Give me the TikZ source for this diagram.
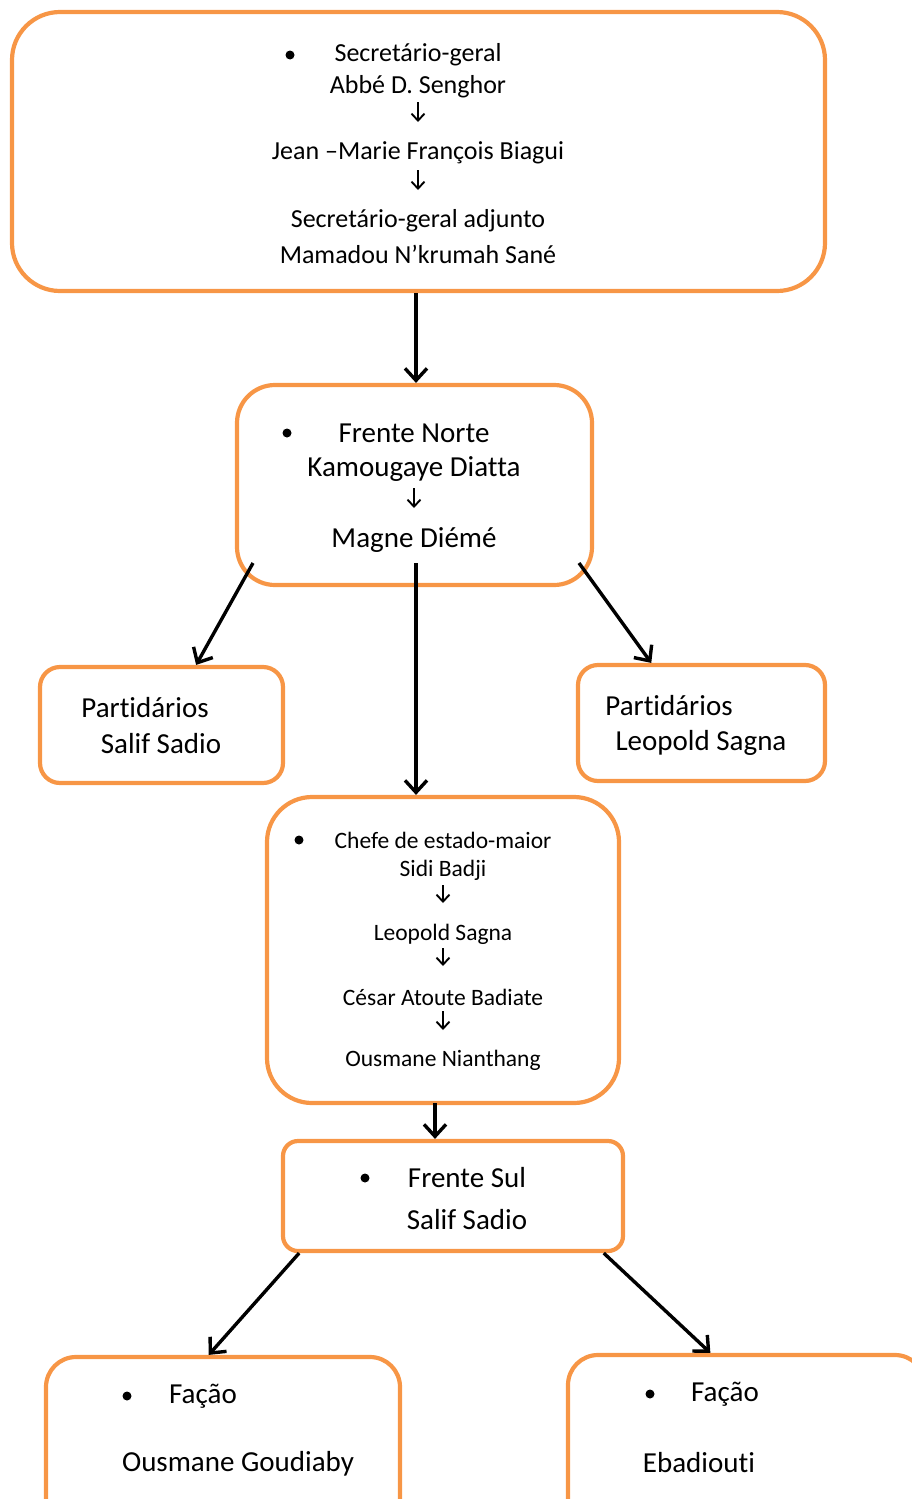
\documentclass[tikz,border=0pt]{standalone}
\usepackage{fontspec}
\setmainfont{Carlito}[Ligatures=NoCommon]
\usetikzlibrary{arrows.meta, calc}
\definecolor{boxorange}{HTML}{F79646}

\tikzset{
    box/.style={draw=boxorange, line width=4.2pt, rounded corners=#1, inner sep=0pt},
    box/.default=30pt,
    dot/.style={circle, fill=black, inner sep=0pt, minimum size=9pt},
    txtS/.style={inner sep=0pt, font=\fontsize{26pt}{31pt}\selectfont},
    txtM/.style={inner sep=0pt, font=\fontsize{23.5pt}{28pt}\selectfont},
    txtL/.style={inner sep=0pt, font=\fontsize{29pt}{35pt}\selectfont},
    link/.style={line width=3.4pt, -{Straight Barb[length=12pt,width=22pt]}},
    step arrow/.style={line width=1.9pt, -{Straight Barb[length=7pt,width=13pt]}}
}

\begin{document}
\begin{tikzpicture}[x=1pt, y=-1pt]
        \useasboundingbox (0,0) rectangle (912,1499);
        \clip (0,0) rectangle (912,1499);

        % boxes
        \node[box=48pt, minimum width=813pt, minimum height=279pt] (top) at (418.5,151.5) {};
        \node[box=38pt, minimum width=355pt, minimum height=200pt] (fn) at (414.5,485) {};
        \node[box=20pt, minimum width=243pt, minimum height=116pt] (pl) at (161.5,725) {};
        \node[box=20pt, minimum width=247pt, minimum height=116pt] (pr) at (701.5,723) {};
        \node[box=45pt, minimum width=352pt, minimum height=306pt] (chefe) at (443,950) {};
        \node[box=15pt, minimum width=340pt, minimum height=110pt] (sul) at (453,1196) {};
        \node[box=30pt, minimum width=354pt, minimum height=203pt] (fl) at (223,1458.5) {};
        \node[box=30pt, minimum width=357pt, minimum height=205pt] (fr) at (746.5,1457.5) {};

        % top box
        \node[dot] (b1) at (290,55) {};
        \node[txtS] (sg) at (418,55) {Secretário-geral};
        \node[txtS] (abbe) at (418,87) {Abbé D. Senghor};
        \node[txtS] (jean) at (418,153) {Jean –Marie François Biagui};
        \node[txtS] (sga) at (418,221) {Secretário-geral adjunto};
        \node[txtS] (mam) at (418,254) {Mamadou N’krumah Sané};
        \draw[step arrow, shorten <=15pt, shorten >=31pt] (abbe.center) -- (jean.center);
        \draw[step arrow, shorten <=17pt, shorten >=31pt] (jean.center) -- (sga.center);

        % frente norte
        \node[dot] (b2) at (287,433) {};
        \node[txtL] (fnorte) at (414,433) {Frente Norte};
        \node[txtL] (kamou) at (414,469) {Kamougaye Diatta};
        \node[txtL] (magne) at (414,540) {Magne Diémé};
        \draw[step arrow, shorten <=19pt, shorten >=32pt] (kamou.center) -- (magne.center);

        % partidarios
        \node[txtL] (pl1) at (145,708) {Partidários};
        \node[txtL] (pl2) at (161,744) {Salif Sadio};
        \node[txtL] (pr1) at (669,706) {Partidários};
        \node[txtL] (pr2) at (701,743) {Leopold Sagna};

        % chefe de estado-maior
        \node[dot] (b3) at (299,840) {};
        \node[txtM] (chf) at (443,840) {Chefe de estado-maior};
        \node[txtM] (sidi) at (443,870) {Sidi Badji};
        \node[txtM] (leo) at (443,934) {Leopold Sagna};
        \node[txtM] (cesar) at (443,997) {César Atoute Badiate};
        \node[txtM] (nian) at (443,1060) {Ousmane Nianthang};
        \draw[step arrow, shorten <=15pt, shorten >=31pt] (sidi.center) -- (leo.center);
        \draw[step arrow, shorten <=14pt, shorten >=31pt] (leo.center) -- (cesar.center);
        \draw[step arrow, shorten <=14pt, shorten >=30pt] (cesar.center) -- (nian.center);

        % frente sul
        \node[dot] (b4) at (365,1178) {};
        \node[txtL] (fsul) at (467,1178) {Frente Sul};
        \node[txtL] (salif) at (467,1220) {Salif Sadio};

        % facoes
        \node[dot] (b5) at (127,1396) {};
        \node[txtL] (fac1) at (203,1396) {Fação};
        \node[txtL] (goud) at (238,1464) {Ousmane Goudiaby};
        \node[dot] (b6) at (650,1394) {};
        \node[txtL] (fac2) at (725,1394) {Fação};
        \node[txtL] (ebad) at (699,1463) {Ebadiouti};

        % arrow starts
        \coordinate (fnL) at (253,563);
        \coordinate (fnC) at (416,563);
        \coordinate (fnR) at (579,563);
        \coordinate (chS) at (435,1103);

        \draw[link] (fnC |- top.south) -- (fnC |- fn.north);
        \draw[link] (fnL) -- ($(pl.north west)!0.64!(pl.north east)$);
        \draw[link] (fnR) -- ($(pr.north west)!0.3!(pr.north east)$);
        \draw[link] (fnC) -- (fnC |- chefe.north);
        \draw[link] (chS) -- (chS |- sul.north);
        \draw[link] ($(sul.south west)!0.053!(sul.south east)$) -- ($(fl.north west)!0.46!(fl.north east)$);
        \draw[link] ($(sul.south west)!0.938!(sul.south east)$) -- ($(fr.north west)!0.4!(fr.north east)$);
\end{tikzpicture}
\end{document}
